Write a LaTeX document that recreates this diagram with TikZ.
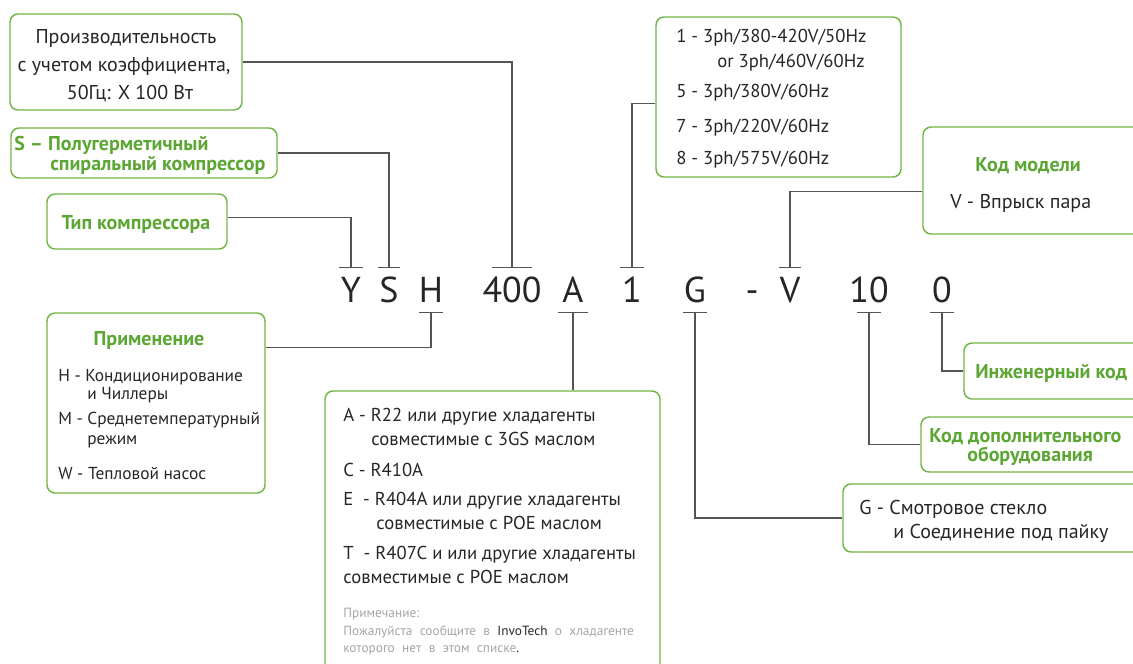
\documentclass[tikz,border=0pt]{standalone}
\usepackage{fontspec}
\setmainfont{PT Sans}
\usetikzlibrary{fit}
\definecolor{boxgreen}{RGB}{112,182,68}
\definecolor{txtgreen}{RGB}{92,166,52}
\definecolor{ink}{RGB}{38,38,38}
\definecolor{linkgray}{RGB}{85,85,85}
\definecolor{notegray}{RGB}{165,165,165}
\newcommand\widespace{\spaceskip 5.5pt\relax}
\begin{document}
\begin{tikzpicture}[x=0.75pt, y=-0.75pt,
    box/.style={draw=boxgreen, line width=1.1pt, rounded corners=6pt, inner sep=0pt},
    link/.style={draw=linkgray, line width=1pt},
    tick/.style={draw=linkgray, line width=1pt},
    code/.style={inner sep=0pt, text=ink, font=\fontsize{27}{27}\selectfont, text height=18.9pt, text depth=0pt, minimum height=33pt},
    txt/.style={inner sep=0pt, anchor=base west, text=ink, font=\fontsize{14}{16}\selectfont},
    big/.style={txt, font=\fontsize{15}{17}\selectfont},
    small/.style={txt, font=\fontsize{13}{15}\selectfont},
    head/.style={txt, text=txtgreen, font=\fontsize{15}{17}\selectfont\bfseries},
    note/.style={txt, text=notegray, font=\fontsize{10}{12}\selectfont\widespace}]
    \useasboundingbox (0,0) rectangle (1133,664);
    \clip (0,0) rectangle (1133,664);

    % model code
    \foreach \n/\x/\t in {cY/351/Y, cS/389/S, cH/431/H, c400/512/400, cA/573/A, c1/632/1, cG/695/G, cdash/752/-, cV/790/V, c10/869/10, c0/942/0}
        \node[code] (\n) at (\x,290) {\t};
    \foreach \n/\w in {cY/12, cS/11, c400/20, c1/12, cV/11}
        \draw[tick] (\n.north) ++(-\w,0) -- ++(2*\w,0);
    \foreach \n/\w in {cH/12, cA/15, cG/12, c10/12, c0/12}
        \draw[tick] (\n.south) ++(-\w,0) -- ++(2*\w,0);

    % boxes
    \node[box, fit={(10,14) (242,110)}] (perf) {};
    \node[box, fit={(11,128) (277,178)}] (semi) {};
    \node[box, fit={(47,194) (227,249)}] (type) {};
    \node[box, fit={(47,313) (265,493)}] (app) {};
    \node[box, fit={(325,391) (660,690)}] (refr) {};
    \node[box, fit={(656,17) (901,177)}] (volt) {};
    \node[box, fit={(923,127) (1150,234)}] (model) {};
    \node[box, fit={(964,343) (1150,399)}] (eng) {};
    \node[box, fit={(921,417) (1150,472)}] (extra) {};
    \node[box, fit={(843,484) (1150,552)}] (glass) {};

    % texts
    \foreach \x/\y/\t [count=\i] in {126/43/Производительность, 124/71/{с учетом коэффициента,}, 130/99/{50Гц: X 100 Вт}}
        \node[big, anchor=base] (perf\i) at (\x,\y) {\t};
    \node[head] (semi1) at (14,150) {S – Полугерметичный};
    \node[head] (semi2) at (50,170) {спиральный компрессор};
    \node[head, anchor=base] (type1) at (136,229) {Тип компрессора};
    \node[head, anchor=base] (app0) at (149,345) {Применение};
    \foreach \x/\y/\t [count=\i] in {58/381/{H - Кондиционирование}, 87/399/{и Чиллеры}, 58/424/{M - Среднетемпературный}, 87/444/режим, 58/479/{W - Тепловой насос}}
        \node[small] (app\i) at (\x,\y) {\t};
    \foreach \x/\y/\t [count=\i] in {343/421/{A - R22 или другие хладагенты}, 371/445/{совместимые с 3GS маслом}, 343/476/{C - R410A}, 343/505/{E\ \ - R404A или другие хладагенты}, 376/529/{совместимые с POE маслом}, 343/559/{T\ \ - R407C и или другие хладагенты}, 343/583/{совместимые с POE маслом}}
        \node[txt] (refr\i) at (\x,\y) {\t};
    \node[note] (note1) at (343,617) {Примечание:};
    \node[note] (note2) at (343,635) {Пожалуйста сообщите в {\color{ink}InvoTech} о хладагенте};
    \node[note] (note3) at (343,652) {которого нет в этом списке{\color{ink}.}};
    \foreach \x/\y/\t [count=\i] in {676/42/{1 - 3ph/380-420V/50Hz}, 717/67/{or 3ph/460V/60Hz}, 676/97/{5 - 3ph/380V/60Hz}, 676/132/{7 - 3ph/220V/60Hz}, 676/164/{8 - 3ph/575V/60Hz}}
        \node[txt] (volt\i) at (\x,\y) {\t};
    \node[head, anchor=base] (model1) at (1028,171) {Код модели};
    \node[big] (model2) at (950,208) {V - Впрыск пара};
    \node[head] (eng1) at (975,378) {Инженерный код};
    \node[head] (extra1) at (929,442) {Код дополнительного};
    \node[head] (extra2) at (967,461) {оборудования};
    \node[big] (glass1) at (859,514) {G - Смотровое стекло};
    \node[big] (glass2) at (893,538) {и Соединение под пайку};

    % connectors
    \draw[link] (perf.east) -| (c400.north);
    \draw[link] (semi.east) -| (cS.north);
    \draw[link] (type.north east) ++(0,24) -| (cY.north);
    \draw[link] (app.north east) ++(0,35) -| (cH.south);
    \draw[link] (cA.south) -- (cA.south |- refr.north);
    \draw[link] (volt.north west) ++(0,87) -| (c1.north);
    \draw[link] (model.north west) ++(0,65) -| (cV.north);
    \draw[link] (c0.south) |- (eng.west);
    \draw[link] (c10.south) |- (extra.west);
    \draw[link] (cG.south) |- (glass.west);
\end{tikzpicture}
\end{document}
